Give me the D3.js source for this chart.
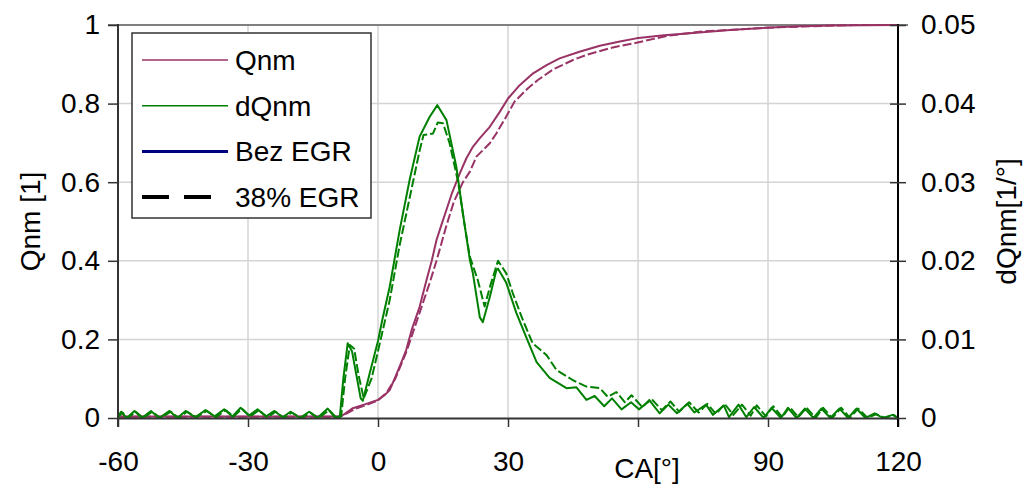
<!DOCTYPE html>
<html>
<head>
<meta charset="utf-8">
<script src="https://cdn.jsdelivr.net/npm/d3@7"></script>
<style>
    body { margin: 0; background: #fff; }
    text { font-family: Arial, "Liberation Sans", sans-serif; }
</style>
</head>
<body>
<script>
// Qnm [-] vs CA [deg], bez EGR (solid)
const qnmBez = [[-60, 0.004], [-20, 0.004], [-9, 0.004], [-8, 0.008], [-5.8, 0.025], [-2.7, 0.036], [0, 0.046],
    [1.5, 0.058], [2.7, 0.071], [4.2, 0.11], [5.5, 0.145], [6.5, 0.173], [7.8, 0.225], [9.6, 0.283], [11.2, 0.351],
    [12.4, 0.4], [13.5, 0.453], [14.6, 0.49], [15.8, 0.53], [17, 0.57], [18.9, 0.623], [20.4, 0.661], [21.9, 0.69],
    [23.5, 0.712], [25.8, 0.741], [28.1, 0.779], [30, 0.813], [32.7, 0.847], [35.8, 0.877], [38.9, 0.898],
    [41.9, 0.915], [46.5, 0.932], [51.2, 0.947], [55.8, 0.958], [59.6, 0.966], [66, 0.974], [74.2, 0.981],
    [82, 0.988], [89.6, 0.993], [97, 0.997], [105, 0.999], [120, 1.0]];

// Qnm, 38% EGR (dashed)
const qnmEgr = [[-60, 0.003], [-20, 0.003], [-9, 0.003], [-8, 0.007], [-5.5, 0.022], [-2.5, 0.034], [0, 0.045],
    [2, 0.065], [4, 0.1], [6.6, 0.17], [8.9, 0.245], [11.9, 0.343], [13.5, 0.4], [15.8, 0.49], [17.5, 0.55],
    [19.6, 0.6], [21.2, 0.627], [22.7, 0.665], [25.8, 0.699], [27.3, 0.724], [29.6, 0.767], [31.5, 0.805],
    [34.6, 0.839], [36.9, 0.86], [40.4, 0.887], [45, 0.911], [48.1, 0.924], [54.2, 0.943], [58.9, 0.953],
    [66.6, 0.972], [74.2, 0.983], [89.6, 0.993], [100, 0.997], [110, 1.0], [120, 1.0]];

// dQnm [1/deg], bez EGR (solid)
const dqnmBez = [[-60, 0.0002], [-59.3, 0.0008], [-58, 0], [-56.2, 0.0009], [-54.5, 0], [-52.4, 0.0009], [-50.5, 0],
    [-48.1, 0.0009], [-46.3, 0], [-44.4, 0.0009], [-42.2, 0.0001], [-39.8, 0.001], [-37.7, 0.0002], [-35.5, 0.0011],
    [-33.6, 0.0002], [-31.7, 0.0013], [-29.8, 0.0003], [-27.8, 0.0011], [-25.8, 0.0002], [-23.9, 0.0009],
    [-22, 0.0001], [-20.2, 0.0008], [-18, 0], [-15.9, 0.0008], [-14, 0], [-11.6, 0.0012], [-10, 0.0001],
    [-8.8, 0.0002], [-8, 0.005], [-7, 0.0095], [-6, 0.0085], [-5, 0.0055], [-4, 0.0025], [-3.5, 0.0022],
    [-2, 0.0055], [0, 0.0098], [1, 0.0125], [2.7, 0.0167], [5, 0.0239], [7.3, 0.0303], [9.6, 0.0358],
    [11.9, 0.0383], [13.7, 0.0398], [15.8, 0.0379], [18.1, 0.0319], [19.6, 0.026], [21.2, 0.0201],
    [21.9, 0.0184], [23.5, 0.0128], [24.2, 0.0122], [25.8, 0.0154], [27.3, 0.0188], [27.7, 0.019],
    [29.6, 0.0172], [31.9, 0.0134], [34.2, 0.0103], [36.6, 0.0071], [39.6, 0.0051], [43.5, 0.0038],
    [45.8, 0.0039], [48.1, 0.0023], [50, 0.0028], [52.2, 0.0015], [54, 0.0025], [56.2, 0.0011], [58.4, 0.002],
    [60.2, 0.0011], [62.7, 0.0022], [65, 0.0006], [67, 0.0017], [69, 0.0006], [71.4, 0.0018], [73, 0.0007],
    [75.7, 0.0017], [77.3, 0.0004], [79.8, 0.0016], [81, 0.0001], [83.2, 0.0017], [85, 0.0001], [86.8, 0.0014],
    [89, 0], [90.8, 0.0013], [93, 0], [94.6, 0.0013], [96.6, 0], [98.5, 0.0012], [100.5, 0], [102.3, 0.0012],
    [104.4, 0], [106.5, 0.0012], [108.5, 0], [110.4, 0.0012], [112.5, 0], [114.6, 0.0006], [116.5, 0],
    [118.8, 0.0004], [120, 0]];

// dQnm, 38% EGR (dashed)
const dqnmEgr = [[-60, 0.0001], [-59, 0.0007], [-57.7, 0], [-55.9, 0.0008], [-54.2, 0], [-52.1, 0.0008],
    [-50.2, 0], [-47.8, 0.0008], [-46, 0], [-44.1, 0.0008], [-41.9, 0.0001], [-39.5, 0.0009], [-37.4, 0.0001],
    [-35.2, 0.001], [-33.3, 0.0002], [-31.4, 0.0012], [-29.5, 0.0002], [-27.5, 0.001], [-25.5, 0.0001],
    [-23.6, 0.0008], [-21.7, 0], [-19.9, 0.0007], [-17.7, 0], [-15.6, 0.0007], [-13.7, 0], [-11.3, 0.001],
    [-9.7, 0.0001], [-8.5, 0.0002], [-7.6, 0.005], [-6.5, 0.0093], [-5.5, 0.0088], [-4.5, 0.0055],
    [-3.3, 0.0025], [-1.5, 0.005], [0, 0.0085], [2.7, 0.015], [5, 0.022], [7.3, 0.028], [9.6, 0.034],
    [10.5, 0.036], [12.7, 0.0362], [13.8, 0.0376], [15, 0.0375], [16.5, 0.035], [18.5, 0.03], [20, 0.0245],
    [21.2, 0.0205], [23, 0.0176], [24.6, 0.0142], [26, 0.017], [27.7, 0.02], [29.6, 0.0184], [31.1, 0.0159],
    [33.4, 0.0125], [35.7, 0.0095], [38.9, 0.008], [41.2, 0.0061], [45, 0.0048], [48.1, 0.004], [51.2, 0.0038],
    [53, 0.0027], [55, 0.0033], [57, 0.002], [58.5, 0.0029], [61, 0.0014], [63, 0.0025], [65.5, 0.001],
    [67.5, 0.0021], [69.5, 0.0008], [71.8, 0.002], [74, 0.0007], [76, 0.0018], [78, 0.0005], [80, 0.0018],
    [82, 0.0004], [84, 0.0017], [86, 0.0003], [87.4, 0.0016], [89.5, 0.0002], [91.2, 0.0015], [93.3, 0.0001],
    [95, 0.0014], [97, 0.0001], [98.9, 0.0013], [101, 0], [102.7, 0.0013], [104.8, 0], [106.9, 0.0013],
    [108.9, 0], [110.8, 0.0012], [113, 0], [115, 0.0005], [117, 0], [119, 0.0004], [120, 0]];

const caTicks = [-60, -30, 0, 30, 60, 90, 120];
// the 60 label is covered by the axis title in the original
const caLabels = ['-60', '-30', '0', '30', '', '90', '120'];
const qnmTicks = [0, 0.2, 0.4, 0.6, 0.8, 1];
const dqnmTicks = [0, 0.01, 0.02, 0.03, 0.04, 0.05];

const legendItems = [
    { label: 'Qnm', color: '#993366', width: 1.5, dash: null, len: 86 },
    { label: 'dQnm', color: '#008000', width: 1.5, dash: null, len: 86 },
    { label: 'Bez EGR', color: '#000080', width: 3, dash: null, len: 86 },
    { label: '38% EGR', color: '#000000', width: 4, dash: '27,15', len: 73 }
];

const width = 1027, height = 488;
const margin = { top: 25, right: 129, bottom: 70, left: 118 };

const svg = d3.select('body')
    .append('svg')
    .attr('width', width)
    .attr('height', height);

const x = d3.scaleLinear().domain([-60, 120]).range([margin.left, width - margin.right]);
const yL = d3.scaleLinear().domain([0, 1]).range([height - margin.bottom, margin.top]);
const yR = d3.scaleLinear().domain([0, 0.05]).range([height - margin.bottom, margin.top]);

const x0 = x.range()[0], x1 = x.range()[1];
const yb = yL.range()[0], yt = yL.range()[1];

// grid
svg.append('g')
    .selectAll('line')
    .data(caTicks.slice(1, -1))
    .enter()
    .append('line')
    .attr('x1', d => x(d)).attr('x2', d => x(d))
    .attr('y1', yt).attr('y2', yb)
    .attr('stroke', '#d4d4d4')
    .attr('stroke-width', 1.5);

svg.append('g')
    .selectAll('line')
    .data(qnmTicks.slice(1, -1))
    .enter()
    .append('line')
    .attr('x1', x0).attr('x2', x1)
    .attr('y1', d => yL(d)).attr('y2', d => yL(d))
    .attr('stroke', '#d4d4d4')
    .attr('stroke-width', 1.5);

// top border
svg.append('line')
    .attr('x1', x0 - 10).attr('x2', x1 + 10)
    .attr('y1', yt).attr('y2', yt)
    .attr('stroke', '#808080')
    .attr('stroke-width', 2);

// curves
const lineL = d3.line().x(d => x(d[0])).y(d => yL(d[1]));
const lineR = d3.line().x(d => x(d[0])).y(d => yR(d[1]));

const curves = [
    { data: qnmEgr, gen: lineL, color: '#993366', dash: '9,3' },
    { data: qnmBez, gen: lineL, color: '#993366', dash: null },
    { data: dqnmEgr, gen: lineR, color: '#008000', dash: '9,3' },
    { data: dqnmBez, gen: lineR, color: '#008000', dash: null }
];

svg.append('g')
    .selectAll('path')
    .data(curves)
    .enter()
    .append('path')
    .attr('d', d => d.gen(d.data))
    .attr('fill', 'none')
    .attr('stroke', d => d.color)
    .attr('stroke-width', 2)
    .attr('stroke-dasharray', d => d.dash)
    .attr('stroke-linejoin', 'round');

// axes
const axisBottom = svg.append('g')
    .attr('transform', 'translate(0,' + yb + ')')
    .call(d3.axisBottom(x).tickValues(caTicks).tickSize(9).tickSizeOuter(0).tickPadding(24)
        .tickFormat((d, i) => caLabels[i]));

const axisLeft = svg.append('g')
    .attr('transform', 'translate(' + x0 + ',0)')
    .call(d3.axisLeft(yL).tickValues(qnmTicks).tickSize(10).tickSizeOuter(0).tickPadding(8)
        .tickFormat(d => String(d)));

const axisRight = svg.append('g')
    .attr('transform', 'translate(' + x1 + ',0)')
    .call(d3.axisRight(yR).tickValues(dqnmTicks).tickSize(8).tickSizeOuter(0).tickPadding(15)
        .tickFormat(d => String(d)));

axisRight.selectAll('.tick line').attr('x1', -8);

[axisBottom, axisLeft, axisRight].forEach(function (a) {
    a.select('.domain').attr('stroke', '#333').attr('stroke-width', 2);
    a.selectAll('.tick line').attr('stroke', '#333').attr('stroke-width', 1.5);
    a.selectAll('.tick text')
        .attr('fill', '#000')
        .style('font-size', '28px')
        .style('font-family', 'Arial, "Liberation Sans", sans-serif');
});
axisRight.select('.domain').attr('stroke', '#000');
axisLeft.select('.domain').attr('d', 'M0,' + (yt - 1) + 'V' + (yb + 9));
axisRight.select('.domain').attr('d', 'M0,' + (yt - 1) + 'V' + (yb + 9));

// titles
svg.append('text')
    .attr('transform', 'translate(40,' + ((yt + yb) / 2) + ') rotate(-90)')
    .attr('text-anchor', 'middle')
    .style('font-size', '28px')
    .text('Qnm [1]');

svg.append('text')
    .attr('transform', 'translate(1016,' + ((yt + yb) / 2) + ') rotate(-90)')
    .attr('text-anchor', 'middle')
    .style('font-size', '28px')
    .text('dQnm[1/°]');

svg.append('text')
    .attr('x', 647)
    .attr('y', 478)
    .attr('text-anchor', 'middle')
    .style('font-size', '28px')
    .text('CA[°]');

// legend
const legend = svg.append('g').attr('transform', 'translate(132,33)');

legend.append('rect')
    .attr('width', 239)
    .attr('height', 185)
    .attr('fill', '#fff')
    .attr('stroke', '#333')
    .attr('stroke-width', 1.5);

const item = legend.selectAll('g.item')
    .data(legendItems)
    .enter()
    .append('g')
    .attr('class', 'item')
    .attr('transform', (d, i) => 'translate(0,' + (27 + i * 45.7) + ')');

item.append('line')
    .attr('x1', 10)
    .attr('x2', d => 10 + d.len)
    .attr('stroke', d => d.color)
    .attr('stroke-width', d => d.width)
    .attr('stroke-dasharray', d => d.dash);

item.append('text')
    .attr('x', 103)
    .attr('y', 10)
    .style('font-size', '28px')
    .text(d => d.label);
</script>
</body>
</html>
